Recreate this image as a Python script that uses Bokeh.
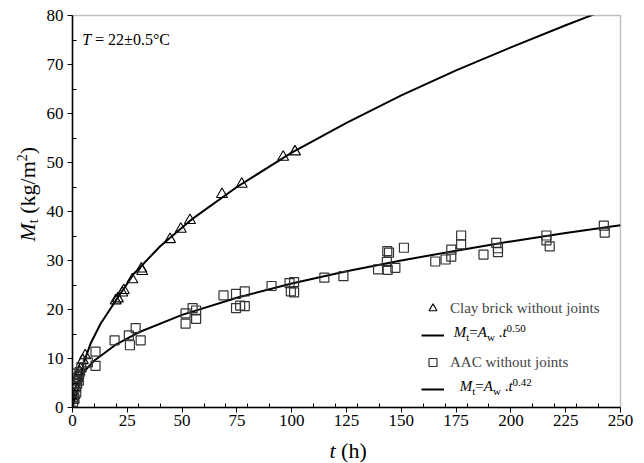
import math
from bokeh.plotting import figure
from bokeh.layouts import row, column
from bokeh.models import FixedTicker, Label, Legend, LegendItem, Range1d
from bokeh.embed import file_html
from bokeh.resources import INLINE

# ---------------- data ----------------
x_ticks = [0, 25, 50, 75, 100, 125, 150, 175, 200, 225, 250]
x_minor = [10, 20, 30, 40, 60, 70, 80, 90, 110, 120, 130, 140, 160, 170, 180, 190, 210, 220, 230, 240]
y_ticks = [0, 10, 20, 30, 40, 50, 60, 70, 80]
y_minor = [5, 15, 25, 35, 45, 55, 65, 75]

clay_t = [0.4, 0.9, 1.3, 1.7, 2.1, 2.7, 3.2, 3.7, 4.7, 5.8, 19.7, 20.7, 22.7, 23.4,
          27.3, 31.4, 31.8, 44.5, 49.4, 53.6, 68.2, 77.2, 96.1, 101.5]
clay_M = [1.5, 2.5, 4.1, 5.5, 6.0, 6.5, 7.3, 7.9, 9.6, 10.6, 21.8, 22.2, 23.4, 23.9,
          26.1, 28.3, 27.8, 34.3, 36.4, 38.2, 43.5, 45.6, 51.1, 52.2]

aac_t = [0.3, 0.6, 0.9, 1.4, 1.7, 1.7, 2.1, 2.7, 2.9, 3.2, 4.0, 7.0, 10.5, 10.5,
         19.2, 25.7, 26.2, 28.8, 31.1, 51.6, 51.6, 54.8, 56.4, 56.4, 68.9, 74.6,
         74.6, 76.5, 78.6, 78.6, 90.8, 99.0, 99.6, 101.1, 101.1, 114.9, 123.6,
         139.4, 143.4, 143.8, 143.6, 144.4, 147.3, 151.2, 165.5, 170.2, 172.8,
         172.8, 177.3, 177.3, 187.5, 193.3, 194.1, 194.1, 216.2, 216.2, 217.7,
         242.4, 242.8]
aac_M = [1.2, 2.1, 1.8, 4.1, 3.1, 6.9, 4.8, 6.2, 5.5, 7.2, 8.2, 9.2, 11.4, 8.5,
         13.7, 14.7, 12.7, 16.2, 13.7, 19.2, 17.1, 20.3, 19.8, 18.1, 22.9, 23.2,
         20.3, 20.8, 23.7, 20.7, 24.8, 25.4, 23.7, 25.6, 23.5, 26.5, 26.8,
         28.2, 29.7, 28.1, 31.9, 31.6, 28.5, 32.6, 29.8, 30.2, 30.8,
         32.2, 33.3, 35.1, 31.2, 33.6, 32.5, 31.7, 35.1, 34.1, 32.9,
         37.1, 35.7]

# fitted curves, points
clay_fit_t = [0, 1.0, 2.9, 5.2, 8.2, 12.8, 19.7, 28, 40, 55, 75, 100, 125, 150, 175, 200, 225, 240]
clay_fit_M = [0, 1.6, 4.5, 9.2, 13.0, 17.1, 21.8, 27.3, 32.9, 38.6, 45.0, 52.0, 58.1, 63.7, 68.8, 73.5, 78.0, 80.6]
aac_fit_t = [0, 0.05, 0.3, 1, 2, 5, 10, 20, 30, 50, 75, 100, 125, 150, 175, 200, 225, 250]
aac_fit_M = [0, 1.0, 2.2, 3.7, 4.9, 7.2, 9.6, 12.9, 15.3, 18.9, 22.4, 25.3, 27.8, 30.0, 32.0, 33.9, 35.6, 37.2]

clay_label = "Clay brick without joints"
aac_label = "AAC without joints"
clay_exp = "0.50"
aac_exp = "0.42"
temp_text = " = 22±0.5°C"

FONT = "Liberation Serif"


def blank_fig(w, h):
    f = figure(width=w, height=h, x_range=Range1d(0, 1), y_range=Range1d(0, 1),
               output_backend="svg", toolbar_location=None, title=None,
               x_axis_type=None, y_axis_type=None, min_border=0, margin=0)
    f.outline_line_color = None
    f.xgrid.visible = False
    f.ygrid.visible = False
    return f


# ---------------- main figure ----------------
p = figure(width=602, height=434, x_range=Range1d(0, 250), y_range=Range1d(0, 80),
           output_backend="svg", toolbar_location=None, margin=0,
           min_border_left=30, min_border_right=24, min_border_top=15, min_border_bottom=27)
p.xgrid.visible = False
p.ygrid.visible = False
p.outline_line_color = "#c0c0c0"
p.outline_line_width = 1.5
p.background_fill_color = "white"

p.xaxis.ticker = FixedTicker(ticks=x_ticks, minor_ticks=x_minor)
p.yaxis.ticker = FixedTicker(ticks=y_ticks, minor_ticks=y_minor)
for ax in (p.xaxis, p.yaxis):
    ax.axis_line_color = "black"
    ax.axis_line_width = 1.5
    ax.major_tick_line_color = "black"
    ax.major_tick_out = 5
    ax.major_tick_in = 0
    ax.minor_tick_line_color = "black"
    ax.minor_tick_in = 4
    ax.minor_tick_out = 0
    ax.major_label_text_font = FONT
    ax.major_label_text_font_size = "17px"
    ax.major_label_text_color = "black"
p.xaxis.major_label_standoff = 2
p.yaxis.major_label_standoff = 4

clay_line = p.line(clay_fit_t, clay_fit_M, line_color="black", line_width=2)
aac_line = p.line(aac_fit_t, aac_fit_M, line_color="black", line_width=2)
clay_pts = p.scatter(clay_t, clay_M, marker="triangle", size=11, fill_alpha=0,
                     line_color="black", line_width=1.1)
aac_pts = p.scatter(aac_t, aac_M, marker="square", size=9, fill_alpha=0,
                    line_color="#333333", line_width=1.2)

legend = Legend(items=[LegendItem(label=clay_label, renderers=[clay_pts]),
                       LegendItem(label=" ", renderers=[clay_line]),
                       LegendItem(label=aac_label, renderers=[aac_pts]),
                       LegendItem(label=" ", renderers=[aac_line])],
                location=(349, 8), padding=0, margin=0, spacing=7,
                glyph_width=23, glyph_height=20, label_height=20, label_standoff=6,
                label_text_font=FONT, label_text_font_size="15px",
                border_line_alpha=0, background_fill_alpha=0)
p.add_layout(legend)

# side strips that carry the axis titles (frame-relative text)
left_fig = blank_fig(42, 434)
bottom_fig = blank_fig(644, 29)

# ---------------- rich text helper ----------------
W_REG = {' ': 250, '(': 333, ')': 333, 'k': 500, 'g': 500, '/': 278, 'm': 778, 'h': 500,
         '=': 564, '.': 250, '±': 564, '°': 400, 'C': 667, 'w': 722, 't': 278}
W_IT = {'M': 833, 'A': 611, 't': 278, 'T': 556}
MID = 0.33  # distance from baseline to the middle anchor, in em


def text_width(s, size, italic):
    tbl = W_IT if italic else W_REG
    return sum(tbl.get(c, 500) for c in s) * size / 1000.0


def rich(fig, parts, x, y, angle=0.0):
    """x, y: start of the text on its baseline (frame-relative screen units)."""
    for s, size, italic, shift in parts:
        lead = len(s) - len(s.lstrip(" "))
        adv = lead * 250 * size / 1000.0
        if angle == 0:
            x += adv
        else:
            y += adv
        s = s.lstrip(" ")
        up = shift + MID * size
        if angle == 0:
            lx, ly = x, y + up
        else:
            lx, ly = x - up, y
        fig.add_layout(Label(x=lx, y=ly, x_units="screen", y_units="screen", text=s,
                             text_font=FONT, text_font_size=f"{size}px",
                             text_font_style="italic" if italic else "normal",
                             text_align="left", text_baseline="middle",
                             angle=angle, text_color="black"))
        w = text_width(s, size, italic)
        if angle == 0:
            x += w
        else:
            y += w


# y axis title (rotated), in the left strip
rich(left_fig, [("M", 22, True, 0), ("t", 14, False, -4), (" (kg/m", 22, False, 0),
                ("2", 14, False, 8), (")", 22, False, 0)], 34, 166, angle=math.pi / 2)
# x axis title, in the bottom strip
rich(bottom_fig, [("t", 22, True, 0), (" (h)", 22, False, 0)], 329, 6)
# temperature annotation
rich(p, [("T", 16, True, 0), (temp_text, 16, False, 0)], 9.7, 362.5)
# legend formulas
rich(p, [("M", 15, True, 0), ("t", 11, False, -3.5), ("=", 15, False, 0), ("A", 15, True, 0),
         ("w", 11, False, -3.5), (" .", 15, False, 0), ("t", 15, True, 0),
         (clay_exp, 11, False, 5)], 381.3, 70.3)
rich(p, [("M", 15, True, 0), ("t", 11, False, -3.5), ("=", 15, False, 0), ("A", 15, True, 0),
         ("w", 11, False, -3.5), (" .", 15, False, 0), ("t", 15, True, 0),
         (aac_exp, 11, False, 5)], 387.3, 16.5)

layout = column(row(left_fig, p, spacing=0), bottom_fig, spacing=0)
open("out.html", "w").write(file_html(layout, INLINE))
